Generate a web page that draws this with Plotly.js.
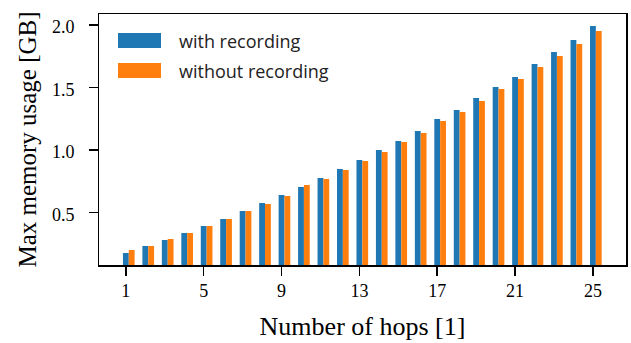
<!DOCTYPE html>
<html>
<head>
<meta charset="utf-8">
<script src="https://cdn.plot.ly/plotly-3.0.1.min.js"></script>
<style>html,body{margin:0;padding:0;background:#fff;}#chart{width:631px;height:343px;}</style>
</head>
<body>
<div id="chart"></div>
<script>
const hops = [1,2,3,4,5,6,7,8,9,10,11,12,13,14,15,16,17,18,19,20,21,22,23,24,25];
const withRecording = [0.176,0.232,0.280,0.336,0.392,0.448,0.512,0.576,0.640,0.704,0.776,0.848,0.920,1.000,1.072,1.152,1.248,1.320,1.416,1.504,1.584,1.688,1.784,1.880,1.992];
const withoutRecording = [0.200,0.232,0.288,0.336,0.392,0.448,0.512,0.568,0.632,0.720,0.768,0.840,0.912,0.984,1.064,1.136,1.232,1.304,1.392,1.488,1.568,1.664,1.752,1.848,1.952];
const seriesNames = ['with recording','without recording'];
const seriesColors = ['#1f77b4','#ff7f0e'];
const xTicks = [1,5,9,13,17,21,25];
const yTicks = [0.5,1.0,1.5,2.0];
const yTickLabels = ['0.5','1.0','1.5','2.0'];

const W = 631, H = 343;
const M = {l:99, r:5, t:14, b:78};
const pw = W - M.l - M.r, ph = H - M.t - M.b;
const px = v => (v - M.l) / pw;
const py = v => (H - M.b - v) / ph;

const serif = 'Liberation Serif, Times New Roman, serif';

const traces = [
  {type:'bar', name:seriesNames[0], x:hops, y:withRecording, width:0.3, offset:-0.15,
   marker:{color:seriesColors[0], line:{width:0}}, showlegend:false},
  {type:'bar', name:seriesNames[1], x:hops, y:withoutRecording, width:0.3, offset:0.15,
   marker:{color:seriesColors[1], line:{width:0}}, showlegend:false}
];

const legendRows = [{top:33, bottom:48},{top:63, bottom:78}];
const shapes = [], annotations = [];
legendRows.forEach((r,i) => {
  shapes.push({type:'rect', xref:'paper', yref:'paper', x0:px(118), x1:px(161), y0:py(r.bottom), y1:py(r.top),
    fillcolor:seriesColors[i], line:{width:0}});
  annotations.push({xref:'paper', yref:'paper', x:px(177), y:py((r.top+r.bottom)/2), xanchor:'left', yanchor:'middle',
    text:seriesNames[i], showarrow:false, font:{family:'Open Sans, sans-serif', size:18, color:'#222'}});
});
// y tick labels placed at the axis scale positions
yTicks.forEach((v,i) => {
  annotations.push({xref:'paper', yref:'y', x:px(77), y:v, xanchor:'right', yanchor:'middle', yshift:-2,
    text:yTickLabels[i], showarrow:false, font:{family:serif, size:18, color:'#000'}});
});

const layout = {
  width:W, height:H,
  margin:M,
  paper_bgcolor:'#fff', plot_bgcolor:'#fff',
  barmode:'overlay',
  showlegend:false,
  font:{family:serif, size:18, color:'#000'},
  xaxis:{
    range:[-0.38, 26.7], tickvals:xTicks, ticktext:xTicks.map(String),
    showgrid:false, zeroline:false, showline:true, mirror:true, linecolor:'#000', linewidth:1.5,
    ticks:'outside', ticklen:9, tickwidth:1.5, tickcolor:'#000',
    tickfont:{family:serif, size:18, color:'#000'},
    title:{text:'Number of hops [1]', font:{family:serif, size:26, color:'#000'}, standoff:16}
  },
  yaxis:{
    range:[0.08, 2.088], tickvals:yTicks, showticklabels:false,
    showgrid:false, zeroline:false, showline:true, mirror:true, linecolor:'#000', linewidth:1.5,
    ticks:'outside', ticklen:9, tickwidth:1.5, tickcolor:'#000',
    tickfont:{family:serif, size:18, color:'#000'},
    title:{text:'Max memory usage [GB]', font:{family:serif, size:25, color:'#000'}, standoff:45}
  },
  shapes:shapes,
  annotations:annotations
};

Plotly.newPlot('chart', traces, layout, {displayModeBar:false, staticPlot:true});
</script>
</body>
</html>
